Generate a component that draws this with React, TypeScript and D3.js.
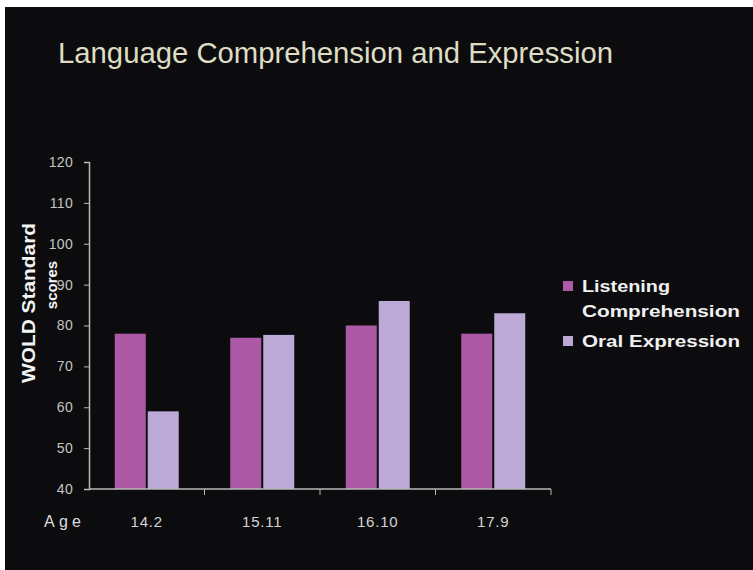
import React, { useEffect, useRef } from "react";
import * as d3 from "d3";

const ages = ["14.2", "15.11", "16.10", "17.9"];
const seriesNames = ["Listening Comprehension", "Oral Expression"];
const listening = [78, 77, 80, 78];
const oral = [59, 77.7, 86, 83];
const yTicks = [40, 50, 60, 70, 80, 90, 100, 110, 120];
const colors = ["#ad5aa6", "#bca9d6"];

function App() {
  const svgRef = useRef<SVGSVGElement>(null);

  useEffect(() => {
    const svg = d3.select(svgRef.current);
    svg.selectAll("*").remove();
    const width = 753;
    const height = 570;
    const font = "Liberation Sans, Arial, sans-serif";

    svg.append("rect").attr("width", width).attr("height", height).attr("fill", "#ffffff");
    svg.append("rect").attr("x", 5).attr("y", 7).attr("width", width - 5).attr("height", height - 7).attr("fill", "#0c0c0f");

    // title
    svg.append("text")
      .attr("x", 58).attr("y", 63)
      .attr("font-family", font)
      .attr("font-size", 29)
      .attr("fill", "#deddc4")
      .attr("textLength", 555)
      .attr("lengthAdjust", "spacingAndGlyphs")
      .text("Language Comprehension and Expression");

    const left = 89, right = 551, top = 162, bottom = 489;

    const x0 = d3.scaleBand<string>().domain(ages).range([left, right])
      .paddingInner(0.446).paddingOuter(0.223);
    const x1 = d3.scaleBand<string>().domain(seriesNames).range([0, x0.bandwidth()]).paddingInner(0.06);
    const y = d3.scaleLinear().domain([40, 120]).range([bottom, top]);

    const rows = ages.map((a, i) => ({ age: a, values: [listening[i], oral[i]] }));

    const g = svg.append("g");
    g.selectAll("g.grp")
      .data(rows)
      .join("g")
      .attr("class", "grp")
      .attr("transform", d => `translate(${x0(d.age)},0)`)
      .selectAll("rect")
      .data(d => d.values.map((v, k) => ({ key: seriesNames[k], v, k })))
      .join("rect")
      .attr("x", d => x1(d.key)!)
      .attr("width", x1.bandwidth())
      .attr("y", d => y(d.v))
      .attr("height", d => y(40) - y(d.v))
      .attr("fill", d => colors[d.k]);

    // y axis
    const yAxis = d3.axisLeft(y).tickValues(yTicks).tickSize(5).tickPadding(11);
    const yg = svg.append("g").attr("transform", `translate(${left},0)`).call(yAxis);
    yg.select(".domain").attr("stroke", "#b8b8b8").attr("stroke-width", 1.5);
    yg.selectAll(".tick line").attr("stroke", "#b8b8b8");
    yg.selectAll(".tick text")
      .attr("fill", "#c4c4c4")
      .attr("font-family", font)
      .attr("font-size", 14)
      .attr("letter-spacing", 0.3);

    // x axis: ticks at band boundaries
    const step = x0.step();
    const boundaries = d3.range(ages.length + 1).map(i => left + i * step);
    svg.append("line").attr("x1", left).attr("x2", right).attr("y1", bottom).attr("y2", bottom)
      .attr("stroke", "#b8b8b8").attr("stroke-width", 1.5);
    svg.selectAll("line.xt").data(boundaries.slice(1)).join("line").attr("class", "xt")
      .attr("x1", d => d).attr("x2", d => d).attr("y1", bottom).attr("y2", bottom + 6)
      .attr("stroke", "#b8b8b8");

    svg.selectAll("text.xl").data(ages).join("text").attr("class", "xl")
      .attr("x", d => x0(d)! + x0.bandwidth() / 2)
      .attr("y", 527)
      .attr("text-anchor", "middle")
      .attr("font-family", font)
      .attr("font-size", 15)
      .attr("letter-spacing", 0.8)
      .attr("fill", "#d4d4d4")
      .text(d => d);

    svg.append("text")
      .attr("x", 44).attr("y", 527)
      .attr("font-family", font)
      .attr("font-size", 16)
      .attr("fill", "#dcdcdc")
      .attr("textLength", 37)
      .attr("lengthAdjust", "spacing")
      .text("Age");

    // y axis title
    svg.append("text")
      .attr("transform", "translate(35,303) rotate(-90)")
      .attr("text-anchor", "middle")
      .attr("font-family", font)
      .attr("font-weight", "bold")
      .attr("font-size", 18)
      .attr("fill", "#f4f4f4")
      .attr("textLength", 160)
      .attr("lengthAdjust", "spacingAndGlyphs")
      .text("WOLD Standard");
    svg.append("text")
      .attr("transform", "translate(57,285) rotate(-90)")
      .attr("text-anchor", "middle")
      .attr("font-family", font)
      .attr("font-weight", "bold")
      .attr("font-size", 15)
      .attr("fill", "#f4f4f4")
      .text("scores");

    // legend
    const legend = [
      { lines: ["Listening", "Comprehension"], widths: [88, 158], y: 281, color: colors[0] },
      { lines: ["Oral Expression"], widths: [158], y: 336, color: colors[1] },
    ];
    legend.forEach(item => {
      svg.append("rect").attr("x", 563).attr("y", item.y).attr("width", 10).attr("height", 10).attr("fill", item.color);
      item.lines.forEach((ln, i) => {
        svg.append("text")
          .attr("x", 582).attr("y", item.y + 11 + i * 25)
          .attr("font-family", font)
          .attr("font-weight", "bold")
          .attr("font-size", 16)
          .attr("fill", "#f0f0f0")
          .attr("textLength", item.widths[i])
          .attr("lengthAdjust", "spacingAndGlyphs")
          .text(ln);
      });
    });
  }, []);

  return (
    <svg ref={svgRef} width={753} height={570} style={{ position: "absolute", left: 0, top: 0 }} />
  );
}

export default App;
